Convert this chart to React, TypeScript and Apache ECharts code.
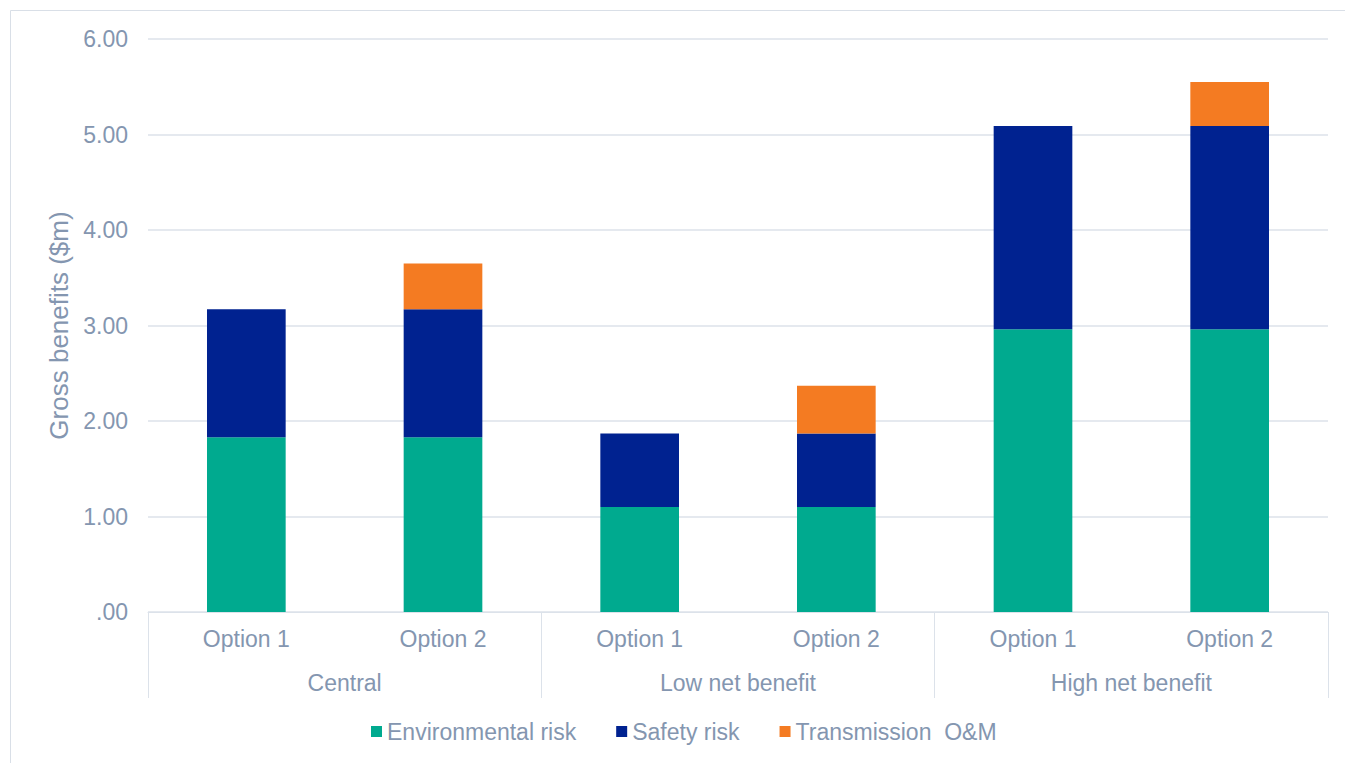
import React, { useEffect, useRef } from "react";
import * as echarts from "echarts";

// Scenario groups and the options within each
const scenarios = ["Central", "Low net benefit", "High net benefit"];
const options = ["Option 1", "Option 2", "Option 1", "Option 2", "Option 1", "Option 2"];

// Gross benefits by source ($m)
const environmentalRisk = [1.83, 1.83, 1.1, 1.1, 2.96, 2.96];
const safetyRisk = [1.34, 1.34, 0.77, 0.77, 2.13, 2.13];
const transmissionOM = [null, 0.48, null, 0.5, null, 0.46];

const yTicks = [0, 1, 2, 3, 4, 5, 6];

const TEXT = "#8496B0";
const LINE = "#DCE2EA";
const FONT = "'Liberation Sans', Arial, sans-serif";

export default function App() {
  const ref = useRef<HTMLDivElement>(null);

  useEffect(() => {
    if (!ref.current) return;
    const chart = echarts.init(ref.current, null, { renderer: "svg" });
    chart.setOption({
      animation: false,
      backgroundColor: "#ffffff",
      textStyle: { fontFamily: FONT },
      graphic: [
        {
          type: "rect",
          shape: { x: 10.5, y: 10.5, width: 1400, height: 800 },
          style: { fill: "none", stroke: "#D9DFE7", lineWidth: 1 },
          silent: true,
        },
      ],
      grid: { left: 148, right: 17, top: 39, bottom: 151 },
      legend: {
        left: 366,
        top: 715,
        itemWidth: 11,
        itemHeight: 11,
        itemGap: 40,
        icon: "rect",
        textStyle: { color: TEXT, fontSize: 23, fontFamily: FONT },
        data: ["Environmental risk", "Safety risk", "Transmission  O&M"],
      },
      xAxis: [
        {
          type: "category",
          data: options,
          axisLine: { show: true, lineStyle: { color: LINE, width: 1 } },
          axisTick: { show: false },
          axisLabel: { color: TEXT, fontSize: 23, margin: 15, interval: 0, fontFamily: FONT },
        },
        {
          type: "category",
          data: scenarios,
          position: "bottom",
          axisLine: { show: false },
          axisTick: { show: true, length: 86, interval: 0, lineStyle: { color: LINE, width: 1 } },
          axisLabel: { color: TEXT, fontSize: 23, margin: 59, interval: 0, fontFamily: FONT },
        },
      ],
      yAxis: {
        type: "value",
        min: yTicks[0],
        max: yTicks[yTicks.length - 1],
        interval: 1,
        name: "Gross benefits ($m)",
        nameLocation: "middle",
        nameGap: 74,
        nameTextStyle: { color: TEXT, fontSize: 26, fontFamily: FONT },
        axisLine: { show: false },
        axisTick: { show: false },
        axisLabel: {
          color: TEXT,
          fontSize: 23,
          margin: 20,
          fontFamily: FONT,
          formatter: (v: number) => (v === 0 ? ".00" : v.toFixed(2)),
        },
        splitLine: { lineStyle: { color: LINE, width: 1.5 } },
      },
      series: [
        {
          name: "Environmental risk",
          type: "bar",
          stack: "total",
          barWidth: "40%",
          xAxisIndex: 0,
          itemStyle: { color: "#00AA8F" },
          data: environmentalRisk,
        },
        {
          name: "Safety risk",
          type: "bar",
          stack: "total",
          xAxisIndex: 0,
          itemStyle: { color: "#002290" },
          data: safetyRisk,
        },
        {
          name: "Transmission  O&M",
          type: "bar",
          stack: "total",
          xAxisIndex: 0,
          itemStyle: { color: "#F47B22" },
          data: transmissionOM,
        },
      ],
    });
    return () => chart.dispose();
  }, []);

  return (
    <div
      ref={ref}
      style={{ position: "absolute", left: 0, top: 0, width: 1345, height: 763 }}
    />
  );
}
